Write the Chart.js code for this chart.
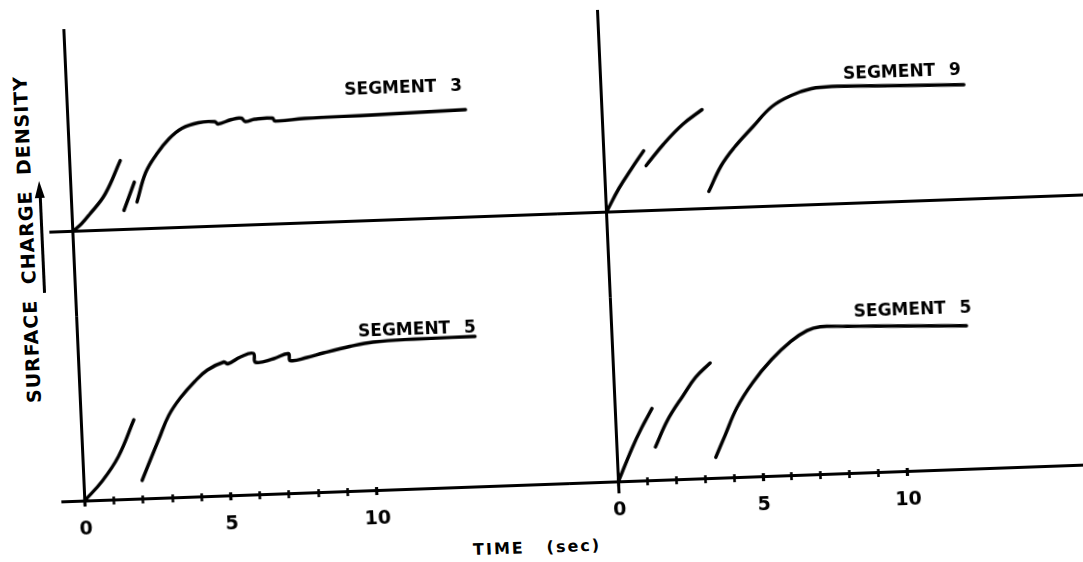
<!DOCTYPE html>
<html>
<head>
<meta charset="utf-8">
<script src="https://cdn.jsdelivr.net/npm/chart.js@4.4.1/dist/chart.umd.min.js"></script>
<style>
  html, body { margin: 0; padding: 0; background: #fff; overflow: hidden; }
  /* the scan is slightly rotated/sheared, the whole figure is drawn straight then tilted */
  #fig { position: absolute; left: 0; top: 0; width: 1083px; height: 562px;
         transform-origin: 541.5px 281px;
         transform: matrix(0.99935, -0.03595, 0.04449, 0.99901, 0, 0); }
  #fig canvas { position: absolute; }
  .txt { position: absolute; color: #000; white-space: nowrap; transform: translate(-50%, -50%);
         font-family: "DejaVu Sans", "Liberation Sans", sans-serif; font-weight: bold; }
  .seg { font-size: 17px; word-spacing: 8px; }
  .time { font-size: 16px; letter-spacing: 2px; }
  #ytitle { font-size: 19px; letter-spacing: 1px; word-spacing: 8px; transform: translate(-50%, -50%) rotate(-90deg); }
  #arrow { position: absolute; left: 43px; top: 178px; width: 3px; height: 97px; background: #000; }
  #arrowHead { position: absolute; left: 39px; top: 163px; width: 0; height: 0;
               border-left: 5.5px solid transparent; border-right: 5.5px solid transparent;
               border-bottom: 17px solid #000; }
</style>
</head>
<body>
<div id="fig">
  <canvas id="cTL"></canvas>
  <canvas id="cTR"></canvas>
  <canvas id="cBL"></canvas>
  <canvas id="cBR"></canvas>
  <div class="txt seg" style="left:412px;top:82px">SEGMENT 3</div>
  <div class="txt seg" style="left:911px;top:84px">SEGMENT 9</div>
  <div class="txt seg" style="left:415px;top:324px">SEGMENT 5</div>
  <div class="txt seg" style="left:911px;top:322px">SEGMENT 5</div>
  <div class="txt time" style="left:487px;top:547px">TIME</div>
  <div class="txt time" style="left:562px;top:547px">(sec)</div>
  <div class="txt" id="ytitle" style="left:29px;top:221px">SURFACE CHARGE DENSITY</div>
  <div id="arrowHead"></div>
  <div id="arrow"></div>
</div>
<script>
// time axis ticks (sec)
const timeTicks = [0, 1, 2, 3, 4, 5, 6, 7, 8, 9, 10];

// SEGMENT 3 (top left) - three separate traces, time in sec, charge in arbitrary units
const seg3aT = [0, 0.3, 0.59, 1.16, 1.73];
const seg3aQ = [0, 7, 16, 36, 69];
const seg3bT = [1.78, 2.18];
const seg3bQ = [19, 47];
const seg3cT = [2.24, 2.58, 2.98, 3.43, 3.89, 4.46, 5.03, 5.12, 5.6, 5.94, 6.06, 6.39, 7.0, 7.08, 8.1, 10.45, 13.62];
const seg3cQ = [27, 56, 74, 89, 99, 104, 104.5, 102, 106, 107, 103.5, 105.5, 106, 103, 104.5, 105.5, 107.5];

// SEGMENT 9 (top right)
const seg9aT = [0, 0.46, 0.92, 1.38];
const seg9aQ = [0, 23, 42, 60];
const seg9bT = [1.44, 2.08, 2.77, 3.46];
const seg9bQ = [45, 66, 85, 99];
const seg9cT = [3.57, 4.03, 4.5, 5.19, 5.88, 6.57, 7.27, 8.07, 9.5, 11.0, 12.55];
const seg9cQ = [17, 42, 59.5, 80, 99.5, 110, 116, 117.5, 116.5, 115.5, 114.5];

// SEGMENT 5 (bottom left)
const seg5aT = [0, 0.63, 1.22, 1.8];
const seg5aQ = [0, 19, 43, 79];
const seg5cT = [1.99, 2.3, 2.63, 3.0, 3.42, 3.94, 4.39, 4.97, 5.1, 5.55, 5.99, 6.05, 6.68, 7.19, 7.24, 7.82, 8.39, 9.3, 10.1, 11.5, 13.6];
const seg5cQ = [18, 38, 59, 82, 99, 115, 126, 133.5, 131.5, 138, 141, 132, 135, 139.5, 132.5, 135, 139, 144.5, 148, 149.5, 150];

// SEGMENT 5 (bottom right)
const seg5rAT = [0, 0.52, 0.87, 1.27];
const seg5rAQ = [0, 32.6, 52, 71.6];
const seg5rBT = [1.33, 1.79, 2.37, 2.83, 3.35];
const seg5rBQ = [33, 59.4, 83.6, 101.3, 115];
const seg5rCT = [3.4, 3.75, 4.21, 4.79, 5.48, 6.17, 6.75, 7.21, 8.13, 9.06, 12.27];
const seg5rCQ = [20.6, 41.8, 69.5, 93.8, 116.2, 133.7, 143.9, 147.3, 146.7, 146, 143];

// layout of the four panels (straightened frame, px)
const colLeft = { x0: 52, x1: 560, origin: 75.5, pxPerSec: 29.2 };
const colRight = { x0: 560, x1: 1110, origin: 609.5, pxPerSec: 28.9 };
const rowTop = { y0: 12, y1: 300, base: 214.5, padB: 0 };
const rowBotL = { y0: 300, y1: 488, base: 484, padB: 44 };
const rowBotR = { y0: 300, y1: 494, base: 484, padB: 38 };

const tickFont = { family: '"DejaVu Sans", "Liberation Sans", sans-serif', size: 19, weight: 'bold' };

function trace(t, q) {
  return {
    data: t.map((v, i) => ({ x: v, y: q[i] })),
    borderColor: '#000',
    borderWidth: 3.4,
    pointRadius: 0,
    fill: false,
    tension: 0.4,
    borderCapStyle: 'round',
    borderJoinStyle: 'round'
  };
}

function makePanel(id, col, row, traces, showTicks) {
  const cv = document.getElementById(id);
  const w = col.x1 - col.x0;
  const h = row.y1 - row.y0 + row.padB;
  cv.width = w; cv.height = h;
  cv.style.left = col.x0 + 'px';
  cv.style.top = row.y0 + 'px';
  cv.style.width = w + 'px';
  cv.style.height = h + 'px';

  const xMin = -(col.origin - col.x0) / col.pxPerSec;
  const xMax = (col.x1 - col.origin) / col.pxPerSec;
  const yMax = row.base - row.y0;
  const yMin = -(row.y1 - row.base);

  return new Chart(cv, {
    type: 'line',
    data: { datasets: traces },
    options: {
      responsive: false,
      animation: false,
      events: [],
      clip: false,
      layout: { padding: { left: 0, right: 0, top: 0, bottom: row.padB } },
      plugins: { legend: { display: false }, tooltip: { enabled: false } },
      scales: {
        x: {
          type: 'linear', min: xMin, max: xMax,
          position: { y: 3.5 },
          border: { display: false },
          grid: {
            drawOnChartArea: false, drawTicks: showTicks, tickLength: 8, tickColor: '#000',
            tickWidth: c => (c.tick && c.tick.value % 5 === 0 ? 3.2 : 2.6)
          },
          ticks: {
            display: showTicks, autoSkip: false, maxRotation: 0, padding: 13, color: '#000', font: tickFont,
            callback: v => (v % 5 === 0 ? String(v) : '')
          },
          afterBuildTicks: s => { s.ticks = timeTicks.map(v => ({ value: v })); },
          afterFit: s => { s.height = 0; }
        },
        y: {
          type: 'linear', min: yMin, max: yMax,
          position: { x: 0 },
          border: { display: true, color: '#000', width: 3 },
          grid: {
            drawTicks: false, lineWidth: 3,
            color: c => (c.tick && c.tick.value === 0 ? '#000' : 'rgba(0,0,0,0)')
          },
          ticks: { display: false },
          afterBuildTicks: s => { s.ticks = [{ value: 0 }]; },
          afterFit: s => { s.width = 0; }
        }
      }
    }
  });
}

makePanel('cTL', colLeft, rowTop, [trace(seg3aT, seg3aQ), trace(seg3bT, seg3bQ), trace(seg3cT, seg3cQ)], false);
makePanel('cTR', colRight, rowTop, [trace(seg9aT, seg9aQ), trace(seg9bT, seg9bQ), trace(seg9cT, seg9cQ)], false);
makePanel('cBL', colLeft, rowBotL, [trace(seg5aT, seg5aQ), trace(seg5cT, seg5cQ)], true);
makePanel('cBR', colRight, rowBotR, [trace(seg5rAT, seg5rAQ), trace(seg5rBT, seg5rBQ), trace(seg5rCT, seg5rCQ)], true);
</script>
</body>
</html>
